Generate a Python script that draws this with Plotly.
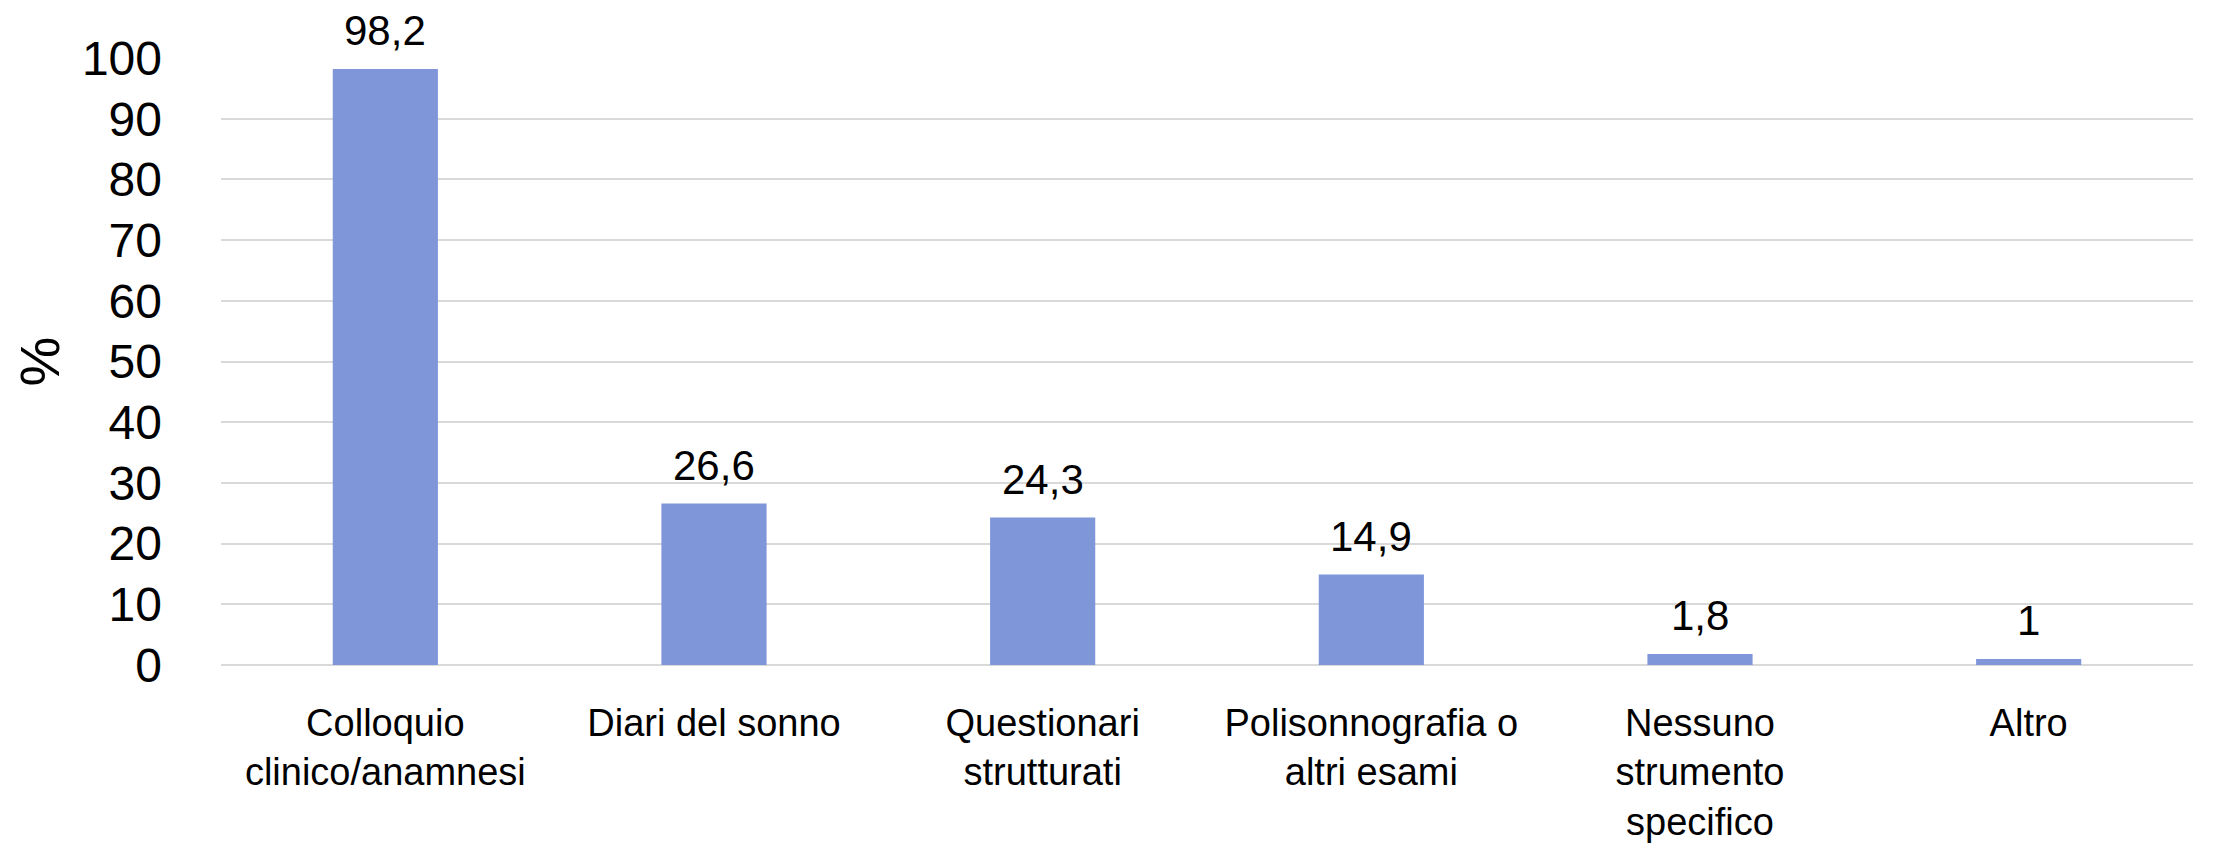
import plotly.graph_objects as go

# Data
categories = [
    "Colloquio<br>clinico/anamnesi",
    "Diari del sonno",
    "Questionari<br>strutturati",
    "Polisonnografia o<br>altri esami",
    "Nessuno<br>strumento<br>specifico",
    "Altro",
]
values = [98.2, 26.6, 24.3, 14.9, 1.8, 1]
y_ticks = list(range(0, 101, 10))

BAR_COLOR = "#7F96D9"
GRID_COLOR = "#D9D9D9"
FONT = "Liberation Sans, Arial, sans-serif"

fig = go.Figure()
fig.add_trace(go.Bar(
    x=categories,
    y=values,
    marker=dict(color=BAR_COLOR, line=dict(width=0)),
    showlegend=False,
    hoverinfo="skip",
))

# Value labels above bars (comma decimal separator)
for cat, val in zip(categories, values):
    fig.add_annotation(
        x=cat, y=val,
        text=f"{val:g}".replace(".", ","),
        showarrow=False,
        yanchor="bottom",
        yshift=14,
        borderpad=0,
        font=dict(family=FONT, size=42, color="black"),
    )

# page body has an 8px default margin, so the figure is slightly smaller
fig.update_layout(
    width=2225,
    height=836,
    margin=dict(l=213, r=40, t=50, b=179, autoexpand=False),
    plot_bgcolor="white",
    paper_bgcolor="white",
    bargap=0.68,
    separators=",.",
    font=dict(family=FONT, color="black"),
)

fig.update_xaxes(
    automargin=False,
    showgrid=False,
    showline=False,
    ticks="",
    tickfont=dict(size=38, color="black"),
    ticklabelstandoff=32,
)
fig.update_yaxes(
    automargin=False,
    range=[0, 100],
    tickvals=y_ticks,
    showgrid=True,
    gridcolor=GRID_COLOR,
    gridwidth=2,
    zeroline=True,
    zerolinecolor=GRID_COLOR,
    zerolinewidth=2,
    showline=False,
    ticks="",
    tickfont=dict(size=48, color="black"),
    ticklabelstandoff=58,
    title=dict(text="%", font=dict(size=56, color="black"), standoff=25),
)

fig.write_html("out.html")
